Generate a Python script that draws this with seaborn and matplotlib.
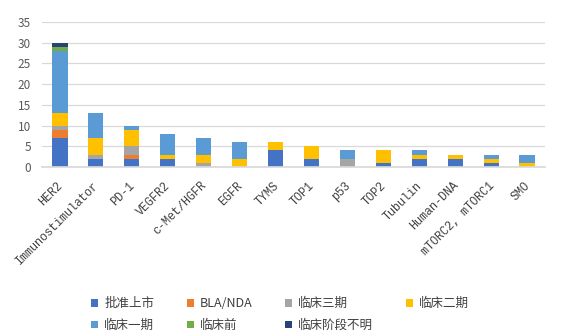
import matplotlib
matplotlib.use("Agg")
import matplotlib.pyplot as plt
from matplotlib.patches import Patch
from matplotlib.transforms import ScaledTranslation
import seaborn as sns
import pandas as pd
import numpy as np

targets = ["HER2", "Immunostimulator", "PD-1", "VEGFR2", "c-Met/HGFR", "EGFR", "TYMS",
           "TOP1", "p53", "TOP2", "Tubulin", "Human-DNA", "mTORC2, mTORC1", "SMO"]
stages = ["批准上市", "BLA/NDA", "临床三期", "临床二期", "临床一期", "临床前", "临床阶段不明"]

approved   = [7, 2, 2, 2, 0, 0, 4, 2, 0, 1, 2, 2, 1, 0]
bla_nda    = [2, 0, 1, 0, 0, 0, 0, 0, 0, 0, 0, 0, 0, 0]
phase3     = [1, 1, 2, 0, 1, 0, 0, 0, 2, 0, 0, 0, 0, 0]
phase2     = [3, 4, 4, 1, 2, 2, 2, 3, 0, 3, 1, 1, 1, 1]
phase1     = [15, 6, 1, 5, 4, 4, 0, 0, 2, 0, 1, 0, 1, 2]
preclin    = [1, 0, 0, 0, 0, 0, 0, 0, 0, 0, 0, 0, 0, 0]
unknown    = [1, 0, 0, 0, 0, 0, 0, 0, 0, 0, 0, 0, 0, 0]

series = [approved, bla_nda, phase3, phase2, phase1, preclin, unknown]
colors = ["#4472C4", "#ED7D31", "#A5A5A5", "#FFC000", "#5B9BD5", "#70AD47", "#264478"]

sns.set_theme(style="white")
plt.rcParams["font.family"] = ["Noto Sans CJK SC", "DejaVu Sans"]

df = pd.DataFrame({s: v for s, v in zip(stages, series)}, index=targets)
cum = df.cumsum(axis=1)

fig = plt.figure(figsize=(5.72, 3.36), dpi=100)
ax = fig.add_axes([42/572, (336-167)/336, 503/572, 145/336])

# overlay cumulative totals, from top layer down
for stage, col in reversed(list(zip(stages, colors))):
    d = pd.DataFrame({"target": targets, "value": cum[stage].values})
    sns.barplot(data=d, x="target", y="value", color=col, width=0.42,
                saturation=1, ax=ax, linewidth=0, errorbar=None, order=targets)

ax.set_ylim(0, 35)
ax.set_yticks(range(0, 36, 5))
ax.set_xlim(-0.5, len(targets) - 0.5)
ax.yaxis.grid(True, color="#d9d9d9", linewidth=0.9)
ax.set_axisbelow(True)
for s in ["top", "right", "left"]:
    ax.spines[s].set_visible(False)
ax.spines["bottom"].set_color("#d9d9d9")
ax.set_xlabel("")
ax.set_ylabel("")
ax.tick_params(axis="y", labelsize=8.5, colors="#595959", length=0, pad=8)
ax.tick_params(axis="x", length=0, pad=9)
ax.set_xticks(range(len(targets)))
ax.set_xticklabels(targets, rotation=45, ha="right", rotation_mode="anchor",
                   fontsize=8.5, color="#404040", family="Liberation Mono")
offset = ScaledTranslation(-3/100, 0, fig.dpi_scale_trans)
for lbl in ax.get_xticklabels():
    lbl.set_transform(lbl.get_transform() + offset)

order = [0, 4, 1, 5, 2, 6, 3]
handles = [Patch(facecolor=colors[i], edgecolor="none") for i in order]
labels = [stages[i] for i in order]
fig.legend(handles, labels, loc="upper left", bbox_to_anchor=(80/572, 1 - 286/336),
           ncol=4, frameon=False, fontsize=9, handlelength=0.55, handleheight=0.55,
           handletextpad=0.5, columnspacing=2.6, labelspacing=0.7,
           labelcolor="#404040")

fig.savefig("out.png", dpi=100)
